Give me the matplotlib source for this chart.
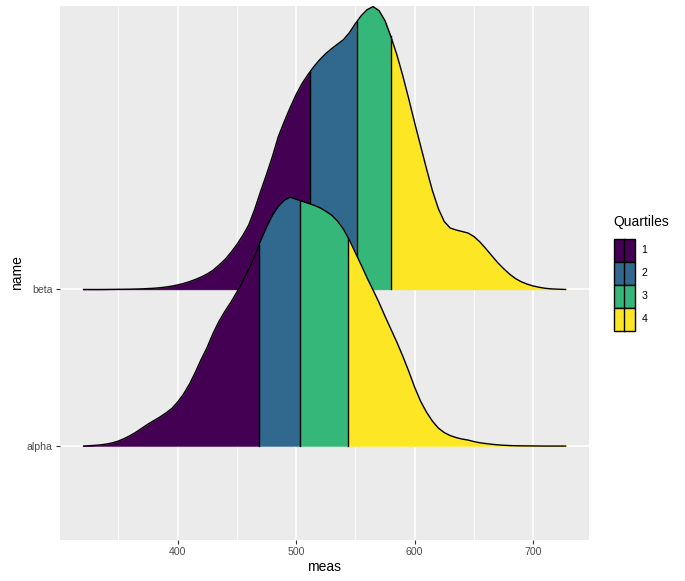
import numpy as np
import matplotlib
matplotlib.use("Agg")
import matplotlib.pyplot as plt
from matplotlib.patches import Rectangle, Patch
from matplotlib.lines import Line2D
from matplotlib.legend_handler import HandlerBase

plt.rcParams['font.family'] = ['Liberation Sans', 'DejaVu Sans']

# density every 5 units of meas
# (arbitrary height units, one ridge step ~ 156.7)
meas = list(range(320, 726, 5)) + [728]
beta_dens = [0, 0, 0, 0, 0.05, 0.1, 0.15, 0.2, 0.3, 0.45,          # 320-365
             0.6, 0.9, 1.2, 1.7, 2.4, 3.3, 4.5, 6, 7.8, 10,         # 370-415
             12.5, 15.5, 19.3, 24.5, 30, 37, 45, 54, 64.5, 80,      # 420-465
             98, 115, 133, 153, 168, 182, 195, 206, 215, 223,       # 470-515
             230, 236, 241, 245.5, 250, 257, 266, 274, 280, 283,    # 520-565
             279, 269, 253, 235, 214, 191, 167, 144, 121, 99,       # 570-615
             81, 68, 61.5, 59.5, 58, 56.5, 53, 47.7, 41, 34,        # 620-665
             27, 21, 15.5, 11, 7.7, 5.3, 3.5, 2.2, 1.2, 0.6,        # 670-715
             0.3, 0.1, 0]                                           # 720-728
alpha_dens = [0, 0.3, 0.7, 1.2, 2, 3.2, 5, 7.5, 10.5, 14,           # 320-365
              18, 22, 25.5, 29, 33, 37.5, 44, 52, 62, 74,           # 370-415
              87, 99, 113, 125, 135, 144, 154, 165, 177, 190,       # 420-465
              205.5, 219, 231, 240, 246, 249, 247, 245, 243, 241,   # 470-515
              238.5, 235, 231, 225, 217, 206, 193.5, 181, 168, 156,  # 520-565
              143.5, 130, 117, 104, 90, 75, 59, 45, 34, 25,         # 570-615
              18, 13.5, 10.5, 8.5, 7, 6, 4.5, 3.3, 2.5, 1.8,        # 620-665
              1.2, 0.8, 0.5, 0.3, 0.2, 0.15, 0.1, 0.05, 0, 0,       # 670-715
              0, 0, 0]                                              # 720-728
names = ["alpha", "beta"]
quartiles = {"alpha": [468.6, 503.3, 544.0], "beta": [511.8, 551.0, 579.7]}
quart_labels = ["1", "2", "3", "4"]
colors = ["#440154", "#31688E", "#35B779", "#FDE725"]
ridge_unit = 156.7


def draw_ridge(ax, base, xs, dens, quarts, z):
    xs = np.asarray(xs, dtype=float)
    y = base + np.asarray(dens, dtype=float) / ridge_unit
    edges = [xs[0]] + list(quarts) + [xs[-1]]
    for i in range(4):
        lo, hi = edges[i], edges[i + 1]
        inner = xs[(xs > lo) & (xs < hi)]
        sx = np.concatenate([[lo], inner, [hi]])
        sy = np.interp(sx, xs, y)
        ax.fill_between(sx, base, sy, facecolor=colors[i], edgecolor=colors[i],
                        lw=0.3, zorder=z)
    for q in quarts:
        ax.plot([q, q], [base, np.interp(q, xs, y)], color="black", lw=1.0,
                zorder=z + 0.1)
    ax.plot(xs, y, color="black", lw=1.0, zorder=z + 0.2,
            solid_capstyle="butt", solid_joinstyle="round")


class QuartileKey(HandlerBase):
    def create_artists(self, legend, orig_handle, xdescent, ydescent, width,
                       height, fontsize, trans):
        r = Rectangle((-xdescent, -ydescent), width, height,
                      facecolor=orig_handle.get_facecolor(), edgecolor="black",
                      lw=1.0, transform=trans)
        l = Line2D([-xdescent + width / 2] * 2, [-ydescent, -ydescent + height],
                   color="black", lw=1.0, transform=trans)
        return [r, l]


fig = plt.figure(figsize=(6.85, 5.81), dpi=100)
ax = fig.add_axes([59.5 / 685, 41 / 581, 529.5 / 685, 534 / 581])
ax.set_facecolor("#EBEBEB")

# beta on top first, alpha drawn over it
draw_ridge(ax, 2, meas, beta_dens, quartiles["beta"], 2)
draw_ridge(ax, 1, meas, alpha_dens, quartiles["alpha"], 3)

ax.set_xlim(300.3, 747.2)
ax.set_ylim(0.40, 3.81)
ax.set_xticks([400, 500, 600, 700])
ax.set_xticks([350, 450, 550, 650], minor=True)
ax.set_yticks([1, 2])
ax.set_yticklabels(names)
ax.grid(True, which="major", color="white", lw=1.1)
ax.grid(True, which="minor", axis="x", color="white", lw=0.55)
ax.set_axisbelow(True)
for s in ax.spines.values():
    s.set_visible(False)
ax.tick_params(which="major", length=3, width=0.8, color="#333333",
               labelsize=7.6, labelcolor="#4D4D4D", pad=2)
ax.tick_params(which="minor", length=0)
ax.set_xlabel("meas", fontsize=10, labelpad=2)
ax.set_ylabel("name", fontsize=10, labelpad=2)

handles = [Patch(facecolor=c) for c in colors]
leg = fig.legend(handles, quart_labels, title="Quartiles",
                 handler_map={Patch: QuartileKey()},
                 loc="upper left", bbox_to_anchor=(604 / 685, 1 - 206 / 581),
                 frameon=False, fontsize=7.6, title_fontsize=10,
                 handlelength=2.08, handleheight=2.975, labelspacing=0,
                 handletextpad=0.55, alignment="left", borderpad=0.4)
leg._legend_box.sep = 6.5  # gap between title and keys

fig.savefig("out.png", dpi=100)
